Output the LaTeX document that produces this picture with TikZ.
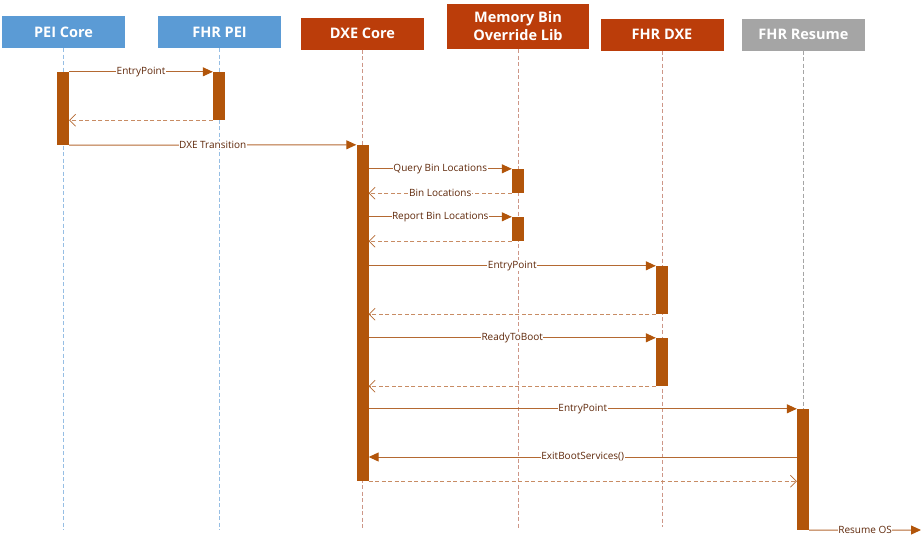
\documentclass[tikz,border=0pt]{standalone}
\usepackage{fontspec}
\setmainfont{Open Sans}
\usetikzlibrary{arrows.meta}
\definecolor{hblue}{RGB}{91,155,213}
\definecolor{horange}{RGB}{187,61,10}
\definecolor{hgray}{RGB}{165,165,165}
\definecolor{barc}{RGB}{178,85,10}
\definecolor{linec}{RGB}{180,105,50}
\definecolor{dashc}{RGB}{200,140,100}
\definecolor{labc}{RGB}{95,40,10}
\definecolor{lifeblue}{RGB}{150,190,228}
\definecolor{lifeor}{RGB}{205,150,135}
\tikzset{
  hdr/.style={fill=#1, text=white, font=\bfseries\fontsize{14.5}{16}\selectfont, minimum width=123pt, minimum height=32pt, inner sep=0pt, align=center},
  bar/.style={fill=barc, draw=none, minimum width=12pt, inner sep=0pt},
  life/.style={draw=#1, dash pattern=on 4pt off 2.5pt, line width=0.6pt},
  msg/.style={draw=linec, line width=1pt, -{Triangle[length=10pt,width=9pt,fill=barc,color=barc]}},
  ret/.style={draw=dashc, line width=0.8pt, dash pattern=on 4pt off 2.5pt, -{Straight Barb[length=6pt,width=12pt,line width=0.7pt,color=linec]}},
  lab/.style={fill=white, text=labc, font=\fontsize{10}{12}\selectfont, inner sep=0.5pt}
}
\begin{document}
\begin{tikzpicture}[x=1pt,y=-1pt]
\useasboundingbox (0,0) rectangle (924,542);
% headers
\node[hdr=hblue] (pei) at (63.5,32) {PEI Core};
\node[hdr=hblue] (fpei) at (219.5,32) {FHR PEI};
\node[hdr=horange] (dxe) at (362.5,33.5) {DXE Core};
\node[hdr=horange, minimum width=142pt, minimum height=45pt, font=\bfseries\fontsize{14.5}{18}\selectfont] (mem) at (518,26.5) {Memory Bin\\Override Lib};
\node[hdr=horange] (fdxe) at (662,34.5) {FHR DXE};
\node[hdr=hgray] (fres) at (803.5,34.5) {FHR Resume};
% lifeline ends
\coordinate (peiE) at (63,530);
\coordinate (fpeiE) at (219,530);
\coordinate (dxeE) at (362,530);
\coordinate (memE) at (518,530);
\coordinate (fdxeE) at (662,527);
\coordinate (fresE) at (803,409);
\draw[life=lifeblue] (pei.south -| peiE) -- (peiE);
\draw[life=lifeblue] (fpei.south -| fpeiE) -- (fpeiE);
\draw[life=lifeor] (dxe.south -| dxeE) -- (dxeE);
\draw[life=lifeor] (mem.south -| memE) -- (memE);
\draw[life=lifeor] (fdxe.south -| fdxeE) -- (fdxeE);
\draw[life=hgray] (fres.south -| fresE) -- (fresE);
% activation bars
\node[bar, minimum height=73pt] (bPei) at (63,108.5) {};
\node[bar, minimum height=48pt] (bFpei) at (219,96) {};
\node[bar, minimum height=336pt] (bDxe) at (362.5,313) {};
\node[bar, minimum height=24pt] (bMem1) at (518,181) {};
\node[bar, minimum height=24pt] (bMem2) at (518,229) {};
\node[bar, minimum height=48pt] (bFdxe1) at (662,290) {};
\node[bar, minimum height=48pt] (bFdxe2) at (662,362) {};
\node[bar, minimum height=121pt] (bFres) at (803,469.5) {};
\coordinate (osEnd) at (921,530);
% messages
\draw[msg] (bPei.north east) -- node[lab]{EntryPoint} (bFpei.north west);
\draw[ret] (bFpei.south west) -- (bFpei.south west -| bPei.east);
\draw[msg] (bPei.south east) -- node[lab]{DXE Transition} (bDxe.north west);
\draw[msg] (bMem1.north west -| bDxe.east) -- node[lab]{Query Bin Locations} (bMem1.north west);
\draw[ret] (bMem1.south west) -- node[lab]{Bin Locations} (bMem1.south west -| bDxe.east);
\draw[msg] (bMem2.north west -| bDxe.east) -- node[lab]{Report Bin Locations} (bMem2.north west);
\draw[ret] (bMem2.south west) -- (bMem2.south west -| bDxe.east);
\draw[msg] (bFdxe1.north west -| bDxe.east) -- node[lab]{EntryPoint} (bFdxe1.north west);
\draw[ret] (bFdxe1.south west) -- (bFdxe1.south west -| bDxe.east);
\draw[msg] (bFdxe2.north west -| bDxe.east) -- node[lab]{ReadyToBoot} (bFdxe2.north west);
\draw[ret] (bFdxe2.south west) -- (bFdxe2.south west -| bDxe.east);
\draw[msg] (bFres.north west -| bDxe.east) -- node[lab]{EntryPoint} (bFres.north west);
\draw[msg] (bFres.west |- 0,457) -- node[lab]{ExitBootServices()} (bDxe.east |- 0,457);
\draw[ret] (bDxe.south east) -- (bDxe.south east -| bFres.west);
\draw[msg] (bFres.south east) -- node[lab]{Resume OS} (osEnd);
\end{tikzpicture}
\end{document}
